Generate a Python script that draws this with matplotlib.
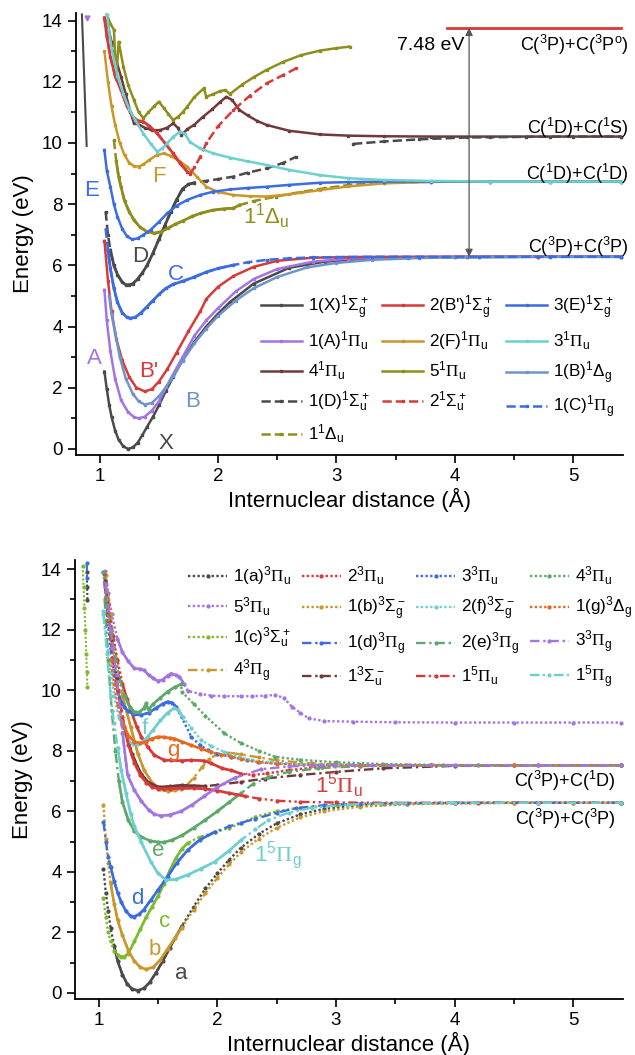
import numpy as np
import matplotlib
matplotlib.use('Agg')
import matplotlib.pyplot as plt

plt.rcParams['font.family'] = ['Liberation Sans', 'DejaVu Sans']
plt.rcParams['mathtext.fontset'] = 'custom'
plt.rcParams['mathtext.rm'] = 'Liberation Sans'
plt.rcParams['mathtext.it'] = 'Liberation Sans:italic'
plt.rcParams['mathtext.bf'] = 'Liberation Sans:bold'
plt.rcParams['mathtext.sf'] = 'Liberation Serif'

NaN = float('nan')

# ---------------- colours ----------------
C_GRAY = '#4a4a4a'; C_RED = '#d83a3a'; C_BLUE = '#3b6ce0'; C_PURPLE = '#a374e4'
C_GOLD = '#c9972a'; C_CYAN = '#6dcfcf'; C_BROWN = '#6e3a3a'; C_OLIVE = '#8e8e1c'
C_STEEL = '#6f94cc'; C_ORANGE = '#e8691e'; C_GREEN = '#5ea86a'; C_LGREEN = '#7cbb2c'

# ================= TOP PANEL: singlet states =================
X_r = [1.04,1.06,1.08,1.10,1.13,1.16,1.20,1.24,1.28,1.32,1.36,1.40,1.45,1.50,1.56,1.62,1.7,1.8,1.9,2.0,2.1,2.3,2.6,2.9,3.2,3.6,4.1,4.7,5.4]
X_E = [2.53,1.95,1.45,1.05,0.6,0.3,0.08,0.0,0.05,0.2,0.45,0.72,1.05,1.42,1.9,2.35,2.9,3.5,4.0,4.42,4.8,5.4,5.92,6.12,6.2,6.25,6.27,6.28,6.28]
Xin_r = [0.85, 0.89]
Xin_E = [14.2, 9.9]
Ain_r = [0.89]
Ain_E = [14.1]
Bp_r = [1.04,1.07,1.10,1.14,1.19,1.25,1.31,1.38,1.44,1.5,1.57,1.65,1.75,1.85,1.9,2.0,2.13,2.3,2.5,2.8,3.1,3.5,4.0,4.7,5.4]
Bp_E = [6.8,5.5,4.5,3.6,2.9,2.35,2.0,1.88,1.95,2.2,2.6,3.15,3.85,4.5,4.9,5.3,5.65,5.95,6.15,6.25,6.27,6.28,6.28,6.28,6.28]
E3_r = [1.04,1.06,1.09,1.12,1.15,1.19,1.23,1.275,1.32,1.37,1.43,1.5,1.57,1.65,1.74,1.85,1.96,2.1,2.25,2.41,2.6,2.86,3.1,3.4,3.8,4.3,4.8,5.4]
E3_E = [9.77,9.1,8.57,8.0,7.59,7.2,6.95,6.85,6.88,7.0,7.16,7.42,7.7,7.95,8.14,8.3,8.41,8.48,8.53,8.57,8.63,8.7,8.72,8.74,8.74,8.74,8.74,8.74]
A_r = [1.04,1.06,1.09,1.13,1.18,1.24,1.29,1.33,1.38,1.44,1.5,1.6,1.7,1.8,1.9,2.0,2.15,2.3,2.5,2.8,3.1,3.5,4.0,4.7,5.4]
A_E = [5.2,4.2,3.2,2.3,1.6,1.2,1.04,1.0,1.05,1.25,1.55,2.3,3.0,3.7,4.2,4.6,5.15,5.55,5.88,6.12,6.22,6.26,6.28,6.28,6.28]
F_r = [1.04,1.07,1.1,1.13,1.17,1.21,1.25,1.29,1.33,1.37,1.42,1.48,1.54,1.6,1.67,1.74,1.82,1.9,2.0,2.13,2.27,2.41,2.6,2.86,3.1,3.4,3.8,4.3,4.8,5.4]
F_E = [13.0,12.0,11.2,10.6,10.0,9.6,9.35,9.24,9.23,9.3,9.45,9.6,9.66,9.58,9.42,9.22,8.9,8.57,8.4,8.3,8.26,8.25,8.32,8.46,8.58,8.68,8.73,8.74,8.74,8.74]
P3_r = [1.06,1.1,1.15,1.2,1.25,1.3,1.37,1.43,1.485,1.53,1.57,1.62,1.68,1.72,1.76,1.85,1.96,2.1,2.25,2.41,2.6,2.86,3.1,3.4,3.8,4.3,4.8,5.4]
P3_E = [14.2,13.1,12.2,11.6,11.1,10.75,10.3,9.98,9.72,9.82,9.99,10.2,10.37,10.3,10.04,9.82,9.66,9.52,9.4,9.28,9.12,8.95,8.85,8.79,8.76,8.74,8.74,8.74]
P4_r = [1.06,1.1,1.14,1.18,1.22,1.26,1.29,1.33,1.38,1.44,1.51,1.57,1.62,1.66,1.69,1.74,1.8,1.87,1.95,2.02,2.07,2.12,2.18,2.25,2.33,2.41,2.6,2.86,3.1,3.4,3.8,4.3,4.8,5.4]
P4_E = [14.0,13.3,12.7,12.17,11.6,11.0,10.64,10.6,10.5,10.42,10.42,10.5,10.64,10.5,10.26,10.45,10.6,10.85,11.1,11.35,11.51,11.4,11.08,10.9,10.72,10.59,10.4,10.28,10.24,10.22,10.21,10.21,10.21,10.21]
P5_r = [1.06,1.09,1.12,1.14,1.16,1.2,1.24,1.29,1.33,1.37,1.41,1.46,1.5,1.54,1.58,1.62,1.66,1.7,1.74,1.8,1.88,1.9,1.96,2.02,2.06,2.1,2.2,2.3,2.41,2.55,2.7,2.86,3.0,3.11]
P5_E = [14.2,13.9,13.7,12.1,13.31,12.5,11.9,11.4,11.0,10.81,11.0,11.2,11.35,11.15,10.95,10.75,10.85,11.0,11.19,11.5,11.79,11.51,11.6,11.7,11.73,11.6,11.9,12.15,12.39,12.65,12.87,13.02,13.1,13.15]
B_r = [1.08,1.1,1.13,1.17,1.22,1.28,1.33,1.38,1.44,1.5,1.56,1.62,1.7,1.8,1.9,2.0,2.15,2.3,2.5,2.75,3.0,3.3,3.7,4.2,4.8,5.4]
B_E = [5.0,4.4,3.8,3.0,2.3,1.8,1.55,1.45,1.5,1.72,2.02,2.38,2.88,3.45,3.93,4.35,4.85,5.25,5.62,5.93,6.08,6.18,6.24,6.27,6.28,6.28]
D_r = [1.05,1.07,1.09,1.12,1.15,1.19,1.22,1.25,1.28,1.32,1.36,1.40,1.45,1.5,1.55,1.6,1.65,1.7,1.75,1.8,1.9,2.0,2.13,2.25,2.41,2.55,2.66,NaN,3.14,3.4,3.7,4.1,4.6,5.0,5.4]
D_E = [7.76,7.0,6.5,6.0,5.7,5.45,5.37,5.36,5.4,5.55,5.75,6.0,6.4,6.85,7.3,7.75,8.15,8.5,8.65,8.7,8.76,8.82,8.9,9.03,9.17,9.35,9.55,NaN,9.97,10.05,10.12,10.18,10.2,10.21,10.21]
S2u_r = [1.04,1.06,1.09,1.13,1.18,1.23,1.29,1.33,1.37,1.42,1.485,1.55,1.62,1.68,1.74,1.765,1.8,1.85,1.9,2.0,2.13,2.27,2.41,2.55,2.66]
S2u_E = [14.1,13.5,12.82,12.2,11.73,11.2,10.81,10.72,10.7,10.55,10.32,10.0,9.66,9.33,9.06,9.0,9.2,9.55,9.99,10.55,11.08,11.55,11.95,12.22,12.44]
C_r = [1.05,1.07,1.09,1.12,1.15,1.19,1.23,1.26,1.30,1.35,1.40,1.45,1.5,1.56,1.62,1.7,1.8,1.9,2.0,2.13,2.25,2.41,2.6,2.8,3.0,3.3,3.7,4.2,4.8,5.4]
C_E = [7.2,6.5,5.9,5.25,4.8,4.45,4.3,4.27,4.3,4.45,4.65,4.85,5.05,5.25,5.38,5.48,5.62,5.78,5.9,6.01,6.1,6.18,6.23,6.26,6.27,6.28,6.28,6.28,6.28,6.28]
D1u_r = [1.12,1.14,1.16,1.18,1.21,1.25,1.29,1.34,1.4,1.46,1.52,1.58,1.64,1.7,1.78,1.85,1.95,2.05,2.13,2.18,2.3,2.49,2.7,2.9,3.11,3.4,3.8,4.3,4.8,5.4]
D1u_E = [10.1,9.4,8.9,8.57,8.1,7.75,7.48,7.25,7.1,7.05,7.1,7.22,7.35,7.45,7.6,7.7,7.8,7.85,7.87,7.97,8.1,8.25,8.4,8.52,8.63,8.7,8.73,8.74,8.74,8.74]

top_asym_E = [13.76, 10.21, 8.74, 6.28]
top_asym_labels = [r'C($^3$P)+C($^3$P$^\mathrm{o}$)', r'C($^1$D)+C($^1$S)',
                   r'C($^1$D)+C($^1$D)', r'C($^3$P)+C($^3$P)']
top_asym_text_E = [13.2, 10.5, 9.0, 6.6]
level_r = [3.93, 5.4]
level_E = [13.76, 13.76]
arrow_r = 4.12
gap_text = '7.48 eV'

# (r, E, colour, style, label, densely-sampled r-range drawn solid) in legend column order
top_series = [
    (X_r, X_E, C_GRAY, '-', r'1(X)$^1\Sigma_\mathrm{g}^+$', None),
    (A_r, A_E, C_PURPLE, '-', r'1(A)$^1\mathsf{\Pi}_\mathrm{u}$', None),
    (P4_r, P4_E, C_BROWN, '-', r'4$^1\mathsf{\Pi}_\mathrm{u}$', None),
    (D_r, D_E, C_GRAY, '--', r'1(D)$^1\Sigma_\mathrm{u}^+$', (1.09, 1.8)),
    (D1u_r, D1u_E, C_OLIVE, '--', r'1$^1\Delta_\mathrm{u}$', (1.14, 2.18)),
    (Bp_r, Bp_E, C_RED, '-', r"2(B')$^1\Sigma_\mathrm{g}^+$", None),
    (F_r, F_E, C_GOLD, '-', r'2(F)$^1\mathsf{\Pi}_\mathrm{u}$', None),
    (P5_r, P5_E, C_OLIVE, '-', r'5$^1\mathsf{\Pi}_\mathrm{u}$', None),
    (S2u_r, S2u_E, C_RED, '--', r'2$^1\Sigma_\mathrm{u}^+$', (1.04, 1.77)),
    (E3_r, E3_E, C_BLUE, '-', r'3(E)$^1\Sigma_\mathrm{g}^+$', None),
    (P3_r, P3_E, C_CYAN, '-', r'3$^1\mathsf{\Pi}_\mathrm{u}$', None),
    (B_r, B_E, C_STEEL, '-', r'1(B)$^1\Delta_\mathrm{g}$', None),
    (C_r, C_E, C_BLUE, '--', r'1(C)$^1\mathsf{\Pi}_\mathrm{g}$', (1.07, 2.2)),
]
top_letters = [('X', 1.50, 0.19, C_GRAY, 'left'), ('B', 1.72, 1.55, C_STEEL, 'left'),
               ("B'", 1.33, 2.52, C_RED, 'left'), ('A', 1.02, 2.95, C_PURPLE, 'right'),
               ('C', 1.58, 5.69, C_BLUE, 'left'), ('D', 1.27, 6.28, C_GRAY, 'left'),
               ('E', 0.99, 8.46, C_BLUE, 'right'), ('F', 1.44, 8.9, C_GOLD, 'left')]

# ================= BOTTOM PANEL: triplet / quintet states =================
a_r = [1.04,1.06,1.08,1.1,1.13,1.16,1.2,1.24,1.28,1.33,1.38,1.43,1.48,1.54,1.6,1.7,1.8,1.9,2.0,2.1,2.2,2.35,2.5,2.7,2.9,3.2,3.6,4.0,4.5,5.0,5.4]
a_E = [4.1,3.3,2.7,2.15,1.55,1.05,0.6,0.3,0.13,0.08,0.15,0.35,0.65,1.05,1.5,2.2,2.85,3.45,3.95,4.4,4.8,5.25,5.6,5.9,6.08,6.2,6.25,6.27,6.28,6.28,6.28]
ain_r = [0.9, 0.902, 0.905]
ain_E = [13.9, 13.4, 12.97]
T2u_r = [1.045,1.08,1.12,1.158,1.2,1.24,1.27,1.32,1.36,1.412,1.47,1.553,1.61,1.7,1.78,1.89,1.95,2.04,2.118,2.2,2.3,2.42,2.6,2.88,3.2,3.6,4.2,5.4]
T2u_E = [13.85,12.8,11.8,11.0,10.2,9.7,9.34,8.8,8.45,8.13,7.85,7.69,7.68,7.67,7.69,7.67,7.58,7.42,7.35,7.24,7.2,7.25,7.36,7.47,7.51,7.52,7.52,7.52]
T3u_r = [1.04,1.07,1.1,1.13,1.16,1.19,1.215,1.25,1.3,1.356,1.42,1.48,1.54,1.582,1.62,1.653,1.7,1.78,1.85,1.92,2.0,2.118,2.25,2.34,2.5,2.8,3.2,3.8,4.5,5.4]
T3u_E = [13.9,12.5,11.3,10.5,9.95,9.6,9.45,9.3,9.2,9.18,9.25,9.4,9.55,9.62,9.58,9.45,9.1,8.46,8.2,8.02,7.9,7.8,7.7,7.63,7.58,7.54,7.52,7.52,7.52,7.52]
T4u_r = [1.04,1.07,1.1,1.14,1.18,1.22,1.26,1.3,1.34,1.38,1.40,1.42,1.46,1.52,1.58,1.64,1.695,1.70,1.8,1.9,2.06,2.2,2.35,2.485,2.7,3.0,3.4,3.9,4.5,5.4]
T4u_E = [13.9,12.8,11.9,11.0,10.3,9.8,9.45,9.28,9.27,9.4,9.56,9.35,9.55,9.75,9.95,10.1,10.2,9.95,9.55,9.15,8.57,8.25,8.0,7.8,7.7,7.62,7.56,7.53,7.52,7.52]
T5u_r = [1.05,1.08,1.11,1.158,1.2,1.25,1.3,1.35,1.384,1.42,1.46,1.497,1.54,1.58,1.61,1.65,1.68,1.72,1.75,1.85,1.95,2.06,2.2,2.29,2.4,2.485,2.56,2.63,2.7,2.77,2.9,3.14,3.5,4.0,4.5,5.0,5.4]
T5u_E = [13.95,13.2,12.5,11.7,11.25,10.95,10.72,10.7,10.66,10.5,10.4,10.3,10.35,10.48,10.55,10.5,10.45,10.2,9.98,9.88,9.82,9.8,9.8,9.8,9.82,9.84,9.75,9.45,9.25,9.07,8.98,8.96,8.94,8.93,8.93,8.93,8.93]
b_r = [1.04,1.06,1.08,1.1,1.13,1.16,1.2,1.25,1.3,1.35,1.4,1.46,1.52,1.58,1.64,1.7,1.8,1.9,2.0,2.1,2.2,2.35,2.5,2.7,2.9,3.2,3.6,4.0,4.5,5.0,5.4]
b_E = [6.2,5.1,4.3,3.63,2.95,2.4,1.9,1.4,1.05,0.85,0.78,0.85,1.1,1.45,1.8,2.15,2.75,3.3,3.8,4.25,4.65,5.1,5.45,5.8,6.0,6.15,6.23,6.26,6.28,6.28,6.28]
f_r = [1.04,1.07,1.1,1.13,1.17,1.21,1.25,1.29,1.33,1.37,1.412,1.46,1.52,1.58,1.638,1.67,1.71,1.78,1.864,1.95,2.06,2.18,2.29,2.45,2.7,3.0,3.5,4.2,5.4]
f_E = [12.6,11.5,10.6,9.8,9.1,8.6,8.32,8.22,8.22,8.3,8.46,8.7,9.0,9.25,9.42,9.35,9.12,8.75,8.35,8.15,7.96,7.8,7.69,7.62,7.56,7.53,7.52,7.52,7.52]
g_r = [1.1,1.13,1.16,1.2,1.25,1.3,1.35,1.4,1.45,1.497,1.55,1.6,1.638,1.7,1.78,1.864,1.95,2.03,2.118,2.2,2.35,2.5,2.8,3.2,3.8,4.5,5.4]
g_E = [11.0,10.2,9.5,8.95,8.5,8.3,8.25,8.3,8.4,8.46,8.45,8.42,8.4,8.3,8.18,8.07,7.95,7.87,7.8,7.72,7.62,7.57,7.53,7.52,7.52,7.52,7.52]
c_r = [1.04,1.06,1.08,1.1,1.13,1.16,1.19,1.215,1.25,1.3,1.35,1.4,1.45,1.5,1.55,1.6,1.65,1.7,1.75,1.85,1.98,2.1,2.2,2.32,2.5,2.7,3.0,3.4,4.0,4.7,5.4]
c_E = [3.12,2.5,2.0,1.7,1.4,1.25,1.2,1.2,1.3,1.7,2.1,2.5,2.85,3.2,3.6,4.05,4.45,4.75,4.95,5.15,5.3,5.45,5.6,5.82,6.0,6.12,6.2,6.25,6.27,6.28,6.28]
cin_r = [0.865,0.872,0.88,0.888,0.895,0.9,0.905]
cin_E = [14.1,13.4,12.7,12.0,11.2,10.6,10.1]
d_r = [1.04,1.06,1.08,1.1,1.13,1.16,1.19,1.23,1.27,1.3,1.34,1.38,1.44,1.5,1.58,1.66,1.75,1.85,1.98,2.1,2.2,2.32,2.5,2.66,2.9,3.2,3.6,4.0,4.7,5.4]
d_E = [5.65,5.0,4.5,4.17,3.7,3.3,3.0,2.7,2.53,2.52,2.6,2.75,3.07,3.4,3.84,4.3,4.72,5.05,5.32,5.5,5.62,5.75,5.95,6.1,6.2,6.25,6.27,6.28,6.28,6.28]
din_r = [0.9, 0.901]
din_E = [14.2, 13.7]
e_r = [1.05,1.08,1.11,1.14,1.17,1.2,1.25,1.3,1.36,1.43,1.5,1.55,1.62,1.7,1.8,1.9,2.0,2.1,2.2,2.3,2.43,2.6,2.85,3.2,3.8,4.5,5.4]
e_E = [13.0,11.0,9.3,8.0,7.0,6.3,5.7,5.35,5.15,5.03,4.98,4.98,5.05,5.2,5.45,5.72,6.0,6.3,6.6,6.9,7.13,7.3,7.42,7.49,7.52,7.52,7.52]
G3_r = [1.06,1.1,1.15,1.2,1.243,1.3,1.36,1.42,1.47,1.525,1.6,1.695,1.79,1.89,2.0,2.15,2.37,2.6,2.87,3.3,4.0,4.7,5.4]
G3_E = [13.5,12.0,10.5,8.6,7.2,6.7,6.33,6.05,5.9,5.85,5.88,6.0,6.22,6.5,6.8,7.11,7.39,7.48,7.52,7.52,7.52,7.52,7.52]
G4_r = [1.06,1.1,1.15,1.2,1.27,1.33,1.384,1.45,1.52,1.58,1.64,1.695,1.74,1.8,1.87,1.93,2.0,2.09,2.2,2.35,2.5,2.8,3.2,3.8,4.5,5.4]
G4_E = [13.8,12.5,11.0,9.8,8.78,7.9,7.35,6.95,6.72,6.67,6.7,6.75,6.85,7.1,7.45,7.72,7.89,7.94,7.88,7.78,7.68,7.58,7.53,7.52,7.52,7.52]
Su_r = [1.05,1.1,1.15,1.215,1.28,1.356,1.42,1.5,1.6,1.7,1.8,1.9,2.0,2.2,2.4,2.7,3.0,3.4,4.0,4.7,5.4]
Su_E = [13.6,12.0,10.4,8.78,7.9,7.24,6.95,6.8,6.82,6.86,6.84,6.83,6.87,6.97,7.08,7.2,7.3,7.42,7.5,7.52,7.52]
Q5u_r = [1.05,1.08,1.12,1.16,1.2,1.25,1.3,1.35,1.4,1.45,1.5,1.55,1.6,1.7,1.8,1.9,2.0,2.1,2.23,2.35,2.5,2.7,3.0,3.5,4.2,5.4]
Q5u_E = [13.5,12.3,11.0,10.0,9.1,8.2,7.6,7.2,6.95,6.8,6.75,6.74,6.75,6.76,6.76,6.74,6.68,6.6,6.5,6.42,6.35,6.31,6.29,6.28,6.28,6.28]
Q5g_r = [1.04,1.07,1.1,1.13,1.16,1.19,1.23,1.27,1.3,1.356,1.44,1.5,1.568,1.65,1.75,1.86,1.977,2.1,2.2,2.32,2.43,2.6,2.8,3.1,3.5,4.0,4.7,5.4]
Q5g_E = [12.5,11.2,9.8,8.9,8.1,7.36,6.6,5.9,5.5,5.0,4.33,3.95,3.73,3.75,3.9,4.1,4.33,4.7,5.05,5.4,5.71,5.95,6.12,6.22,6.26,6.28,6.28,6.28]

bot_asym_E = [7.52, 6.28]
bot_asym_labels = [r'C($^3$P)+C($^1$D)', r'C($^3$P)+C($^3$P)']
bot_asym_text_E = [7.0, 5.75]

DOT = (0, (1, 1.0))
DASHDOT = (0, (4, 1.6, 1, 1.6))
DASHDOTDOT = (0, (4, 1.4, 1, 1.4, 1, 1.4))

bot_series = [  # legend column order
    (a_r, a_E, C_GRAY, DOT, r'1(a)$^3\mathsf{\Pi}_\mathrm{u}$', (1.12, 1.7)),
    (T5u_r, T5u_E, C_PURPLE, DOT, r'5$^3\mathsf{\Pi}_\mathrm{u}$', (1.15, 1.72)),
    (c_r, c_E, C_LGREEN, DOT, r'1(c)$^3\Sigma_\mathrm{u}^+$', (1.14, 1.75)),
    (G4_r, G4_E, C_GOLD, DASHDOT, r'4$^3\mathsf{\Pi}_\mathrm{g}$', (1.2, 1.7)),
    (T2u_r, T2u_E, C_RED, DOT, r'2$^3\mathsf{\Pi}_\mathrm{u}$', (1.2, 2.2)),
    (b_r, b_E, C_GOLD, DOT, r'1(b)$^3\Sigma_\mathrm{g}^-$', (1.1, 1.7)),
    (d_r, d_E, C_BLUE, DASHDOT, r'1(d)$^3\mathsf{\Pi}_\mathrm{g}$', (1.1, 1.98)),
    (Su_r, Su_E, C_BROWN, DASHDOT, r'1$^3\Sigma_\mathrm{u}^-$', (1.215, 1.9)),
    (T3u_r, T3u_E, C_BLUE, DOT, r'3$^3\mathsf{\Pi}_\mathrm{u}$', (1.16, 1.66)),
    (f_r, f_E, C_CYAN, DOT, r'2(f)$^3\Sigma_\mathrm{g}^-$', (1.21, 1.72)),
    (e_r, e_E, C_GREEN, DASHDOT, r'2(e)$^3\mathsf{\Pi}_\mathrm{g}$', (1.17, 2.2)),
    (Q5u_r, Q5u_E, C_RED, DASHDOTDOT, r'1$^5\mathsf{\Pi}_\mathrm{u}$', (1.2, 2.23)),
    (T4u_r, T4u_E, C_GREEN, DOT, r'4$^3\mathsf{\Pi}_\mathrm{u}$', (1.22, 1.695)),
    (g_r, g_E, C_ORANGE, DOT, r'1(g)$^3\Delta_\mathrm{g}$', (1.2, 1.95)),
    (G3_r, G3_E, C_PURPLE, DASHDOT, r'3$^3\mathsf{\Pi}_\mathrm{g}$', (1.2, 2.15)),
    (Q5g_r, Q5g_E, C_CYAN, DASHDOTDOT, r'1$^5\mathsf{\Pi}_\mathrm{g}$', (1.16, 2.2)),
]
bot_letters = [('a', 1.64, 0.65, C_GRAY), ('b', 1.42, 1.42, C_GOLD), ('c', 1.51, 2.35, C_LGREEN),
               ('d', 1.27, 3.12, C_BLUE), ('e', 1.45, 4.72, C_GREEN), ('f', 1.36, 8.73, C_CYAN),
               ('g', 1.58, 8.02, C_ORANGE)]
bot_state_labels = [(r'1$^5\mathsf{\Pi}_\mathrm{u}$', 2.82, 6.85, C_RED),
                    (r'1$^5\mathsf{\Pi}_\mathrm{g}$', 2.31, 4.55, C_CYAN)]

# ================= drawing =================
fig = plt.figure(figsize=(6.35, 10.55), dpi=100)
ax1 = fig.add_axes([0.1197, 0.5687, 0.8614, 0.419])
ax2 = fig.add_axes([0.1181, 0.0531, 0.8630, 0.4161])

def style_axes(ax, ymax):
    ax.set_xlim(0.8, 5.42)
    ax.set_ylim(-0.2, ymax)
    for s in ('top', 'right'):
        ax.spines[s].set_visible(False)
    for s in ('left', 'bottom'):
        ax.spines[s].set_linewidth(1.3)
    ax.set_xticks([1, 2, 3, 4, 5])
    ax.set_xticks([1.5, 2.5, 3.5, 4.5], minor=True)
    ax.set_yticks(range(0, 15, 2))
    ax.set_yticks(range(1, 15, 2), minor=True)
    ax.tick_params(which='major', direction='out', length=6, width=1.2, labelsize=13.5)
    ax.tick_params(which='minor', direction='out', length=3.5, width=1.2)
    ax.set_xlabel('Internuclear distance (Å)', fontsize=16, labelpad=2)
    ax.set_ylabel('Energy (eV)', fontsize=16, labelpad=6)

def draw(ax, r, E, col, ls, lab, dense, marker, lw):
    ax.plot(r, E, color=col, ls=ls, lw=lw, marker=marker, ms=2.0, label=lab)
    if dense is not None:
        # densely sampled stretch: overlapping markers look like a solid line
        rr = [x for x in r if x == x and dense[0] <= x <= dense[1]]
        ee = [y for x, y in zip(r, E) if x == x and dense[0] <= x <= dense[1]]
        ax.plot(rr, ee, color=col, ls='-', lw=lw + 0.2)

# top
for r, E, col, ls, lab, dense in top_series:
    draw(ax1, r, E, col, ls, lab, dense, 's', 1.8)
ax1.plot(Xin_r, Xin_E, color=C_GRAY, lw=1.5)
ax1.plot(Ain_r, Ain_E, color=C_PURPLE, ls='none', marker='v', ms=3.5)
ax1.plot(level_r, level_E, color=C_RED, lw=2.0)
ax1.annotate('', xy=(arrow_r, top_asym_E[3]), xytext=(arrow_r, top_asym_E[0]),
             arrowprops=dict(arrowstyle='<|-|>', color='#555555', lw=0.9,
                             mutation_scale=11, shrinkA=0, shrinkB=0))
ax1.text(arrow_r - 0.04, 13.2, gap_text, ha='right', va='center', fontsize=14)
for lab, yt in zip(top_asym_labels, top_asym_text_E):
    ax1.text(5.47, yt, lab, ha='right', va='center', fontsize=13, clip_on=False)
for t, x, y, col, ha in top_letters:
    ax1.text(x, y, t, color=col, fontsize=16, ha=ha, va='center')
ax1.text(2.21, 7.59, r'1$^1\Delta_\mathrm{u}$', color=C_OLIVE, fontsize=16, va='center')
style_axes(ax1, 14.25)
ax1.legend(loc='upper left', bbox_to_anchor=(0.338, 0.366), ncol=3, frameon=False,
           fontsize=12.3, handlelength=2.4, handletextpad=0.35, columnspacing=0.75,
           labelspacing=0.45, borderpad=0, borderaxespad=0, numpoints=1, markerscale=1.0)

# bottom
for r, E, col, ls, lab, dense in bot_series:
    draw(ax2, r, E, col, ls, lab, dense, 'o', 1.7)
ax2.plot(ain_r, ain_E, color=C_GRAY, ls=DOT, lw=1.5, marker='o', ms=2)
ax2.plot(cin_r, cin_E, color=C_LGREEN, ls=DOT, lw=1.5, marker='o', ms=2)
ax2.plot(din_r, din_E, color=C_BLUE, ls=DASHDOT, lw=1.5, marker='o', ms=2)
for lab, yt in zip(bot_asym_labels, bot_asym_text_E):
    ax2.text(5.36, yt, lab, ha='right', va='center', fontsize=13, clip_on=False)
for t, x, y, col in bot_letters:
    ax2.text(x, y, t, color=col, fontsize=16, va='center')
for t, x, y, col in bot_state_labels:
    ax2.text(x, y, t, color=col, fontsize=16, va='center')
style_axes(ax2, 14.3)
ax2.legend(loc='upper left', bbox_to_anchor=(0.206, 0.99), ncol=4, frameon=False,
           fontsize=12.3, handlelength=2.3, handletextpad=0.35, columnspacing=0.6,
           labelspacing=0.45, borderpad=0, borderaxespad=0, numpoints=1, markerscale=1.0)

fig.savefig('out.png', dpi=100)
